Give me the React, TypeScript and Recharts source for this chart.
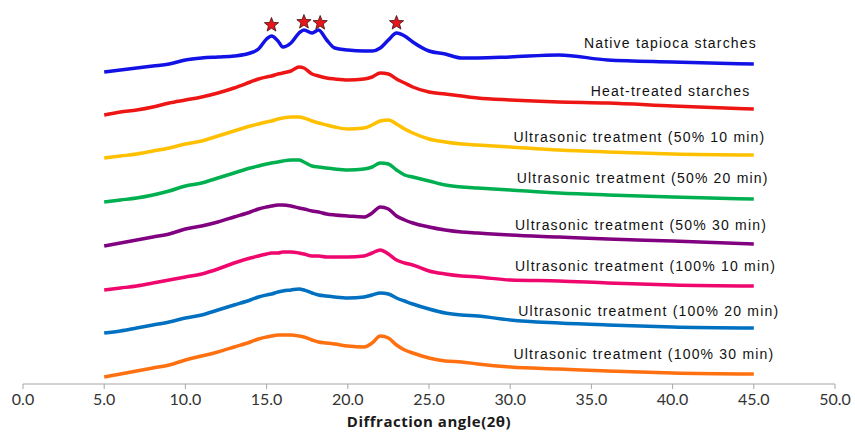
import React from "react";
import {
  ComposedChart,
  Line,
  Scatter,
  XAxis,
  YAxis,
  ReferenceDot,
  Label,
} from "recharts";

const angles = [
  5, 6, 7, 8, 9, 10, 11, 12, 13, 14, 14.5, 15, 15.3, 15.7, 16, 16.5, 17, 17.3,
  17.8, 18.2, 18.7, 19.2, 20, 21, 21.5, 22, 22.5, 23, 23.5, 24, 25, 26, 27, 28,
  30, 33, 36, 40, 45,
];

// intensities (stacked, arbitrary units)
const native = [
  312, 314, 316, 318, 320, 324, 326, 327, 328, 331, 335, 345, 348, 343, 337,
  341, 351, 354, 351, 354, 344, 336, 334, 333, 333, 336, 344, 351, 348, 342,
  333, 330, 326, 326, 327, 329, 324, 322, 320,
];
const heatTreated = [
  269, 272, 274, 277, 281, 284, 287, 291, 296, 302, 305, 307, 308, 310, 311,
  313, 317, 316, 310, 308, 306, 305, 304, 305, 307, 311, 310, 305, 301, 297,
  292, 290, 288, 286, 284, 282, 281, 278, 275,
];
const us50_10 = [
  226, 228, 230, 233, 236, 240, 243, 248, 253, 258, 260, 262, 263, 265, 266,
  267, 267, 266, 263, 261, 259, 257, 255, 256, 259, 263, 264, 260, 255, 251,
  245, 242, 240, 239, 237, 234, 232, 230, 229,
];
const us50_20 = [
  182, 184, 186, 189, 193, 198, 201, 206, 211, 216, 218, 220, 221, 222, 223,
  224, 224, 222, 218, 217, 216, 215, 214, 215, 217, 221, 220, 214, 209, 207,
  203, 199, 197, 196, 194, 191, 189, 187, 185,
];
const us50_30 = [
  138, 141, 144, 147, 150, 155, 158, 162, 167, 172, 175, 177, 178, 179, 179,
  178, 176, 175, 173, 172, 170, 169, 168, 167, 171, 177, 175, 168, 164, 161,
  157, 154, 152, 151, 149, 147, 145, 143, 140,
];
const us100_10 = [
  94, 96, 98, 101, 104, 107, 110, 115, 121, 126, 128, 130, 131, 131, 132, 132,
  131, 130, 128, 128, 127, 127, 127, 128, 131, 134, 130, 124, 121, 119, 113,
  110, 108, 107, 104, 103, 101, 99, 98,
];
const us100_20 = [
  51, 53, 56, 59, 62, 66, 69, 74, 79, 84, 87, 89, 90, 92, 93, 94, 95, 94, 91,
  89, 88, 87, 86, 87, 89, 91, 90, 86, 83, 80, 75, 71, 69, 68, 64, 61, 59, 57,
  56,
];
const us100_30 = [
  7, 10, 13, 16, 19, 24, 28, 32, 37, 42, 45, 47, 48, 49, 49, 49, 48, 47, 44, 42,
  41, 40, 38, 37, 41, 48, 46, 39, 34, 31, 26, 23, 22, 20, 17, 15, 13, 11, 10,
];

const seriesNames = [
  "Native tapioca starches",
  "Heat-treated starches",
  "Ultrasonic treatment (50% 10 min)",
  "Ultrasonic treatment (50% 20 min)",
  "Ultrasonic treatment (50% 30 min)",
  "Ultrasonic treatment (100% 10 min)",
  "Ultrasonic treatment (100% 20 min)",
  "Ultrasonic treatment (100% 30 min)",
];
const seriesValues = [
  native,
  heatTreated,
  us50_10,
  us50_20,
  us50_30,
  us100_10,
  us100_20,
  us100_30,
];
const seriesColors = [
  "#1212e6",
  "#ee1515",
  "#ffc000",
  "#00b050",
  "#800080",
  "#f0076e",
  "#0070c0",
  "#ff7010",
];

// crystalline peak markers on the native pattern
const starAngles = [15.3, 17.3, 18.3, 23.0];
const starHeights = [359, 362, 361, 361];

// where each curve's name sits (2θ, intensity, anchor)
const labelSpots = [
  { x: 45.2, y: 341, anchor: "end" },
  { x: 44.8, y: 293, anchor: "end" },
  { x: 30.2, y: 247, anchor: "start" },
  { x: 30.4, y: 206, anchor: "start" },
  { x: 30.3, y: 159, anchor: "start" },
  { x: 30.3, y: 118, anchor: "start" },
  { x: 30.5, y: 73, anchor: "start" },
  { x: 30.2, y: 30, anchor: "start" },
];

const xTicks = [0, 5, 10, 15, 20, 25, 30, 35, 40, 45, 50];

const series = seriesValues.map((vals) =>
  angles.map((a, i) => ({ x: a, y: vals[i] }))
);
const stars = starAngles.map((a, i) => ({ x: a, y: starHeights[i] }));

function Star(props: any) {
  const { cx, cy } = props;
  const pts: string[] = [];
  for (let i = 0; i < 10; i++) {
    const r = i % 2 === 0 ? 7.5 : 3.2;
    const ang = -Math.PI / 2 + (i * Math.PI) / 5;
    pts.push(`${cx + r * Math.cos(ang)},${cy + r * Math.sin(ang)}`);
  }
  return (
    <polygon
      points={pts.join(" ")}
      fill="#e8151b"
      stroke="#3a1010"
      strokeWidth={0.8}
    />
  );
}

export default function App() {
  return (
    <div style={{ position: "absolute", left: 0, top: 0, background: "#fff" }}>
      <ComposedChart
        width={855}
        height={432}
        margin={{ top: 0, right: 20, bottom: 0, left: 23 }}
      >
        <XAxis
          type="number"
          dataKey="x"
          domain={[0, 50]}
          ticks={xTicks}
          allowDataOverflow
          tickFormatter={(v: number) => v.toFixed(1)}
          height={48}
          stroke="#a6a6a6"
          tickSize={5}
          tickMargin={5}
          tick={{ fill: "#333", fontSize: 16, fontFamily: "Lato" }}
        >
          <Label
            value="Diffraction angle(2θ)"
            position="insideBottom"
            offset={5}
            style={{
              fill: "#1a1a1a",
              fontSize: 15,
              fontWeight: "bold",
              fontFamily: "Open Sans",
              letterSpacing: 0.5,
            }}
          />
        </XAxis>
        <YAxis type="number" domain={[0, 384]} hide />
        {series.map((d, i) => (
          <Line
            key={seriesNames[i]}
            data={d}
            dataKey="y"
            type="monotone"
            stroke={seriesColors[i]}
            strokeWidth={3.5}
            dot={false}
            isAnimationActive={false}
          />
        ))}
        <Scatter
          data={stars}
          dataKey="y"
          shape={<Star />}
          isAnimationActive={false}
        />
        {labelSpots.map((s, i) => (
          <ReferenceDot
            key={"lbl" + i}
            x={s.x}
            y={s.y}
            r={0}
            shape={(p: any) => (
              <text
                x={p.cx}
                y={p.cy}
                dy="0.35em"
                textAnchor={s.anchor}
                fontFamily="Liberation Sans, Arial, sans-serif"
                fontSize={14}
                letterSpacing={1.2}
                fill="#111"
              >
                {seriesNames[i]}
              </text>
            )}
          />
        ))}
      </ComposedChart>
    </div>
  );
}
